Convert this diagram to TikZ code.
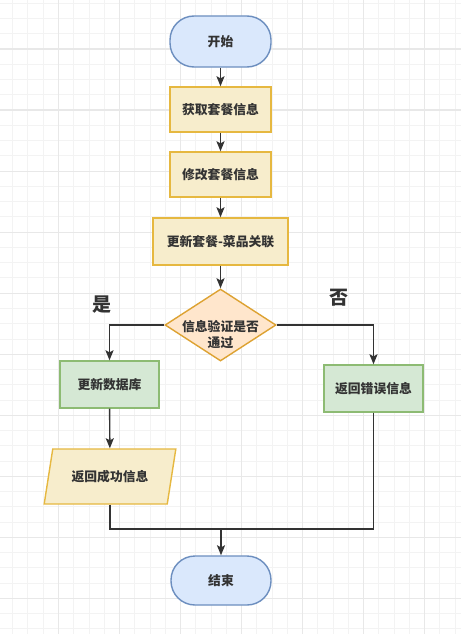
\documentclass[tikz,border=0pt]{standalone}
\usepackage{fontspec}
\usetikzlibrary{arrows.meta,shapes.geometric}
\newfontfamily\cjk{Noto Sans CJK SC}
\definecolor{linegray}{HTML}{333333}
\definecolor{gridminor}{HTML}{F3F3F3}
\definecolor{gridmajor}{HTML}{E8E8E8}
\definecolor{termfill}{HTML}{DAE8FC}
\definecolor{termdraw}{HTML}{6C8EBF}
\definecolor{stepfill}{HTML}{F7EDCC}
\definecolor{stepdraw}{HTML}{E6B840}
\definecolor{askfill}{HTML}{FFE6CC}
\definecolor{askdraw}{HTML}{DDA232}
\definecolor{okfill}{HTML}{D5E8D4}
\definecolor{okdraw}{HTML}{8DBB73}

\tikzset{
  txt/.style={text=linegray, font=\cjk\bfseries\fontsize{12.8}{16.5}\selectfont, align=center},
  termbox/.style={txt, draw=termdraw, fill=termfill, line width=1.4pt, rounded corners=24pt},
  stepbox/.style={txt, draw=stepdraw, fill=stepfill, line width=1.4pt},
  okbox/.style={txt, draw=okdraw, fill=okfill, line width=1.4pt},
  askbox/.style={draw=askdraw, fill=askfill, line width=1.4pt, diamond, aspect=1.54, inner sep=0pt},
  iobox/.style={stepbox, trapezium, trapezium left angle=72, trapezium right angle=108,
    trapezium stretches=true},
  flow/.style={draw=linegray, line width=1.4pt},
}

\begin{document}
\begin{tikzpicture}[x=1pt, y=-1pt, >={Stealth[length=10pt,width=8pt,inset=2pt]}]
  \useasboundingbox (0,0) rectangle (461,634);
  \fill[white] (0,0) rectangle (461,634);
  % grid
  \foreach \k in {0,...,29}
    \draw[gridminor, line width=1pt] ({12.7+15.26*\k},0) -- ++(0,634);
  \foreach \k in {0,...,41}
    \draw[gridminor, line width=1pt] (0,{3.3+15.26*\k}) -- ++(461,0);
  \foreach \k in {0,...,6}
    \draw[gridmajor, line width=1.3pt] ({58.5+61.04*\k},0) -- ++(0,634);
  \foreach \k in {0,...,9}
    \draw[gridmajor, line width=1.3pt] (0,{49.1+61.04*\k}) -- ++(461,0);

  \node[termbox, minimum width=101pt, minimum height=51pt] (start) at (220.5,41.5) {开始};
  \node[stepbox, minimum width=101pt, minimum height=45pt] (fetch) at (220.5,109.5) {获取套餐信息};
  \node[stepbox, minimum width=101pt, minimum height=45pt] (edit) at (220.5,174.5) {修改套餐信息};
  \node[stepbox, minimum width=135pt, minimum height=47pt] (link) at (220.5,241.5) {更新套餐-菜品关联};
  \node[askbox, minimum width=111pt, minimum height=72pt] (check) at (220.5,325) {};
  \node[txt] (checktext) at (220.5,334.5) {信息验证是否\\通过};
  \node[okbox, minimum width=99pt, minimum height=47pt] (db) at (109.5,384.5) {更新数据库};
  \node[okbox, minimum width=99pt, minimum height=47pt] (err) at (373.5,388.5) {返回错误信息};
  \node[iobox, minimum width=132pt, minimum height=55pt] (done) at (110,476.5) {返回成功信息};
  \node[termbox, minimum width=100pt, minimum height=49pt] (stop) at (221,580.5) {结束};
  \node[txt, font=\cjk\bfseries\fontsize{19}{22}\selectfont] (yes) at (102,305) {是};
  \node[txt, font=\cjk\bfseries\fontsize{19}{22}\selectfont] (no) at (339,298) {否};
  \coordinate (merge) at (221,529);

  \draw[flow, ->] (start) -- (fetch);
  \draw[flow, ->] (fetch) -- (edit);
  \draw[flow, ->] (edit) -- (link);
  \draw[flow, ->] (link) -- (check);
  \draw[flow, ->] (check.west) -| (db.north);
  \draw[flow, ->] (check.east) -| (err.north);
  \draw[flow, ->] (db) -- (done);
  \draw[flow] (done.south) |- (merge);
  \draw[flow] (err.south) |- (merge);
  \draw[flow, ->] (merge) -- (stop);
\end{tikzpicture}
\end{document}
